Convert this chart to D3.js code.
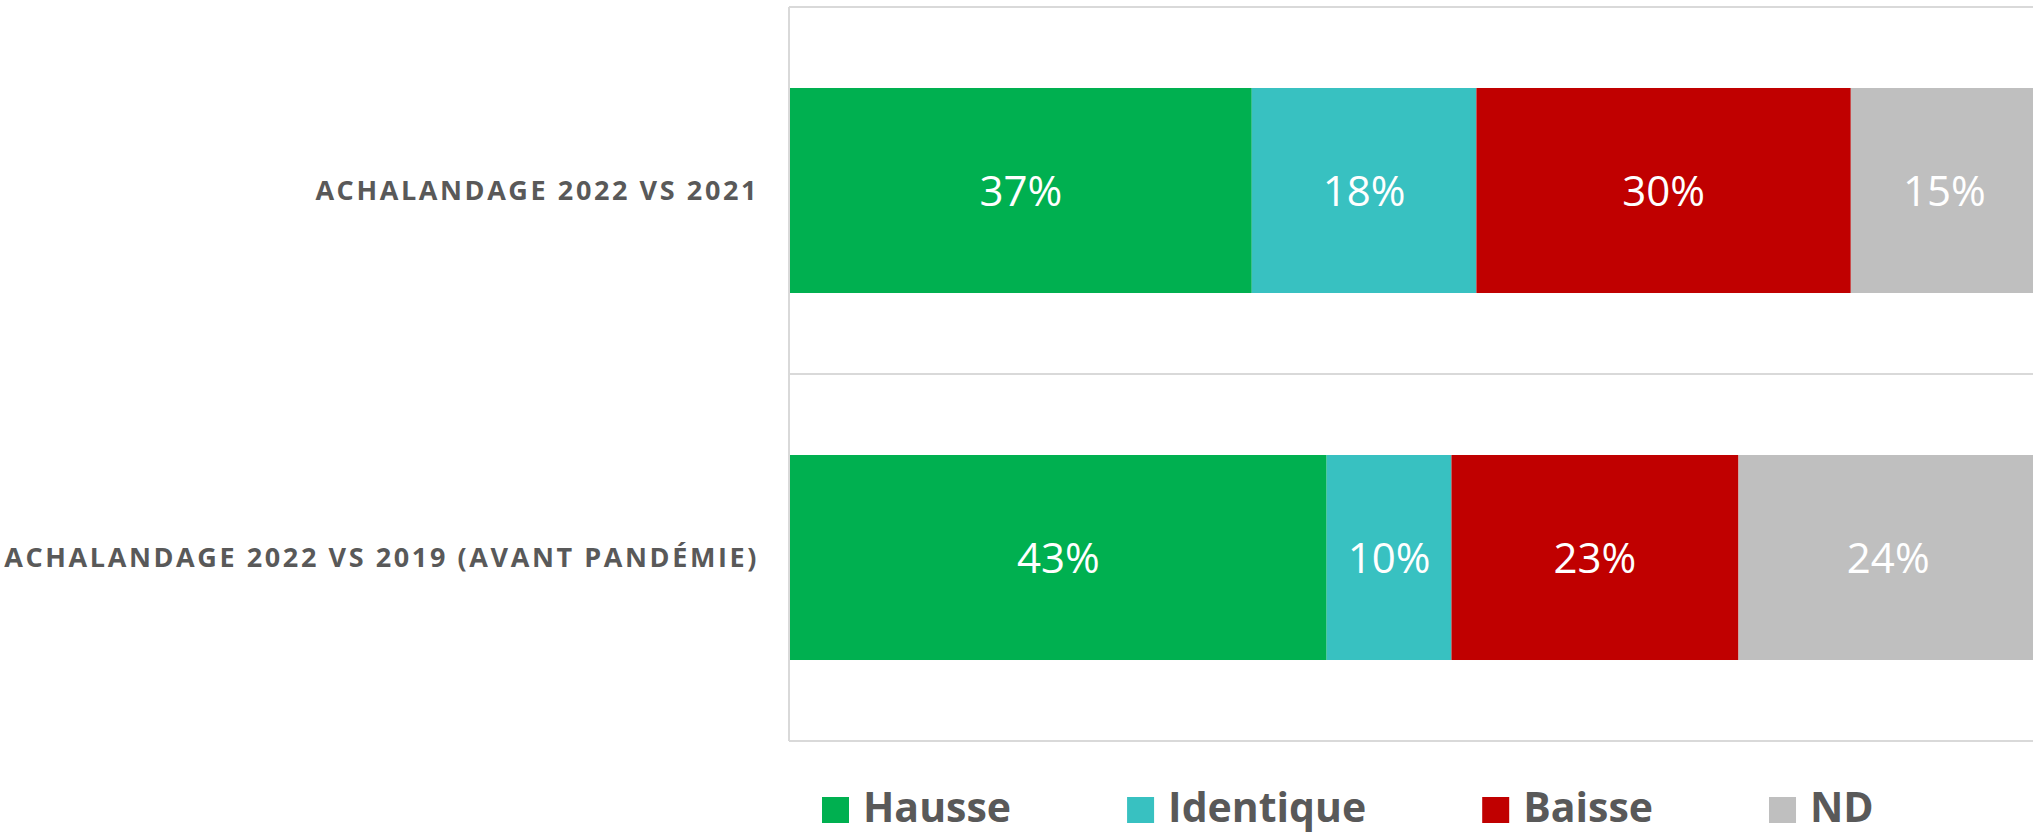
<!DOCTYPE html>
<html>
<head>
<meta charset="utf-8">
<script src="https://cdn.jsdelivr.net/npm/d3@7"></script>
<style>
  body { margin: 0; background: #fff; }
  svg { display: block; font-family: "Open Sans", sans-serif; }
</style>
</head>
<body>
<svg id="chart"></svg>
<script>
const width = 2033;
const height = 835;

// data
const categories = ['ACHALANDAGE 2022 VS 2021', 'ACHALANDAGE 2022 VS 2019 (AVANT PANDÉMIE)'];
const seriesNames = ['Hausse', 'Identique', 'Baisse', 'ND'];
const hausse = [37, 43];
const identique = [18, 10];
const baisse = [30, 23];
const nd = [15, 24];
const colors = ['#00b050', '#38c1c1', '#c00000', '#bfbfbf'];

const rows = categories.map((c, i) => ({
  cat: c, Hausse: hausse[i], Identique: identique[i], Baisse: baisse[i], ND: nd[i]
}));

const margin = { top: 7, left: 790 };
const plotBottom = 741;

const svg = d3.select('#chart')
  .attr('width', width)
  .attr('height', height);

const x = d3.scaleLinear()
  .domain([0, 100])
  .range([margin.left, 2038]);

const y = d3.scaleBand()
  .domain(categories)
  .range([margin.top, plotBottom])
  .paddingInner(0.4414)
  .paddingOuter(0.2207);

const stack = d3.stack().keys(seriesNames);
const series = stack(rows);

// frame and category dividers
const grid = svg.append('g').attr('class', 'grid');
const bounds = [margin.top].concat(categories.map((c) => y(c) - y.step() * y.paddingInner() / 2 + y.step()));
grid.selectAll('line.h')
  .data(bounds)
  .enter()
  .append('line')
  .attr('class', 'h')
  .attr('x1', margin.left - 1)
  .attr('x2', width)
  .attr('y1', (d) => d)
  .attr('y2', (d) => d)
  .attr('stroke', '#d9d9d9')
  .attr('stroke-width', 2);

grid.append('line')
  .attr('x1', margin.left - 1)
  .attr('x2', margin.left - 1)
  .attr('y1', margin.top)
  .attr('y2', plotBottom)
  .attr('stroke', '#d9d9d9')
  .attr('stroke-width', 2);

// bars
const layers = svg.append('g')
  .selectAll('g')
  .data(series)
  .enter()
  .append('g')
  .attr('fill', (d, i) => colors[i]);

layers.selectAll('rect')
  .data((d) => d)
  .enter()
  .append('rect')
  .attr('x', (d) => x(d[0]))
  .attr('y', (d) => y(d.data.cat))
  .attr('width', (d) => x(d[1]) - x(d[0]))
  .attr('height', y.bandwidth());

layers.selectAll('text')
  .data((d) => d)
  .enter()
  .append('text')
  .attr('x', (d) => (x(d[0]) + x(d[1])) / 2)
  .attr('y', (d) => y(d.data.cat) + y.bandwidth() / 2)
  .attr('dy', '0.36em')
  .attr('text-anchor', 'middle')
  .attr('fill', '#fff')
  .style('font-size', '42px')
  .text((d) => Math.round(d[1] - d[0]) + '%');

// category labels
svg.append('g')
  .selectAll('text')
  .data(categories)
  .enter()
  .append('text')
  .attr('x', 759)
  .attr('y', (d) => y(d) + y.bandwidth() / 2)
  .attr('dy', '0.36em')
  .attr('text-anchor', 'end')
  .attr('fill', '#595959')
  .style('font-size', '27px')
  .style('font-weight', 700)
  .style('letter-spacing', '2.6px')
  .text((d) => d);

// legend
const legend = svg.append('g')
  .attr('id', 'legend')
  .attr('transform', 'translate(822,797)');

let lx = 0;
seriesNames.forEach((name, i) => {
  const item = legend.append('g').attr('transform', `translate(${lx},0)`);
  item.append('rect')
    .attr('width', 27)
    .attr('height', 26)
    .attr('fill', colors[i]);
  const t = item.append('text')
    .attr('x', 41)
    .attr('y', 25)
    .attr('fill', '#595959')
    .style('font-size', '41px')
    .style('font-weight', 700)
    .text(name);
  lx += 41 + t.node().getComputedTextLength() + 116;
});
</script>
</body>
</html>
